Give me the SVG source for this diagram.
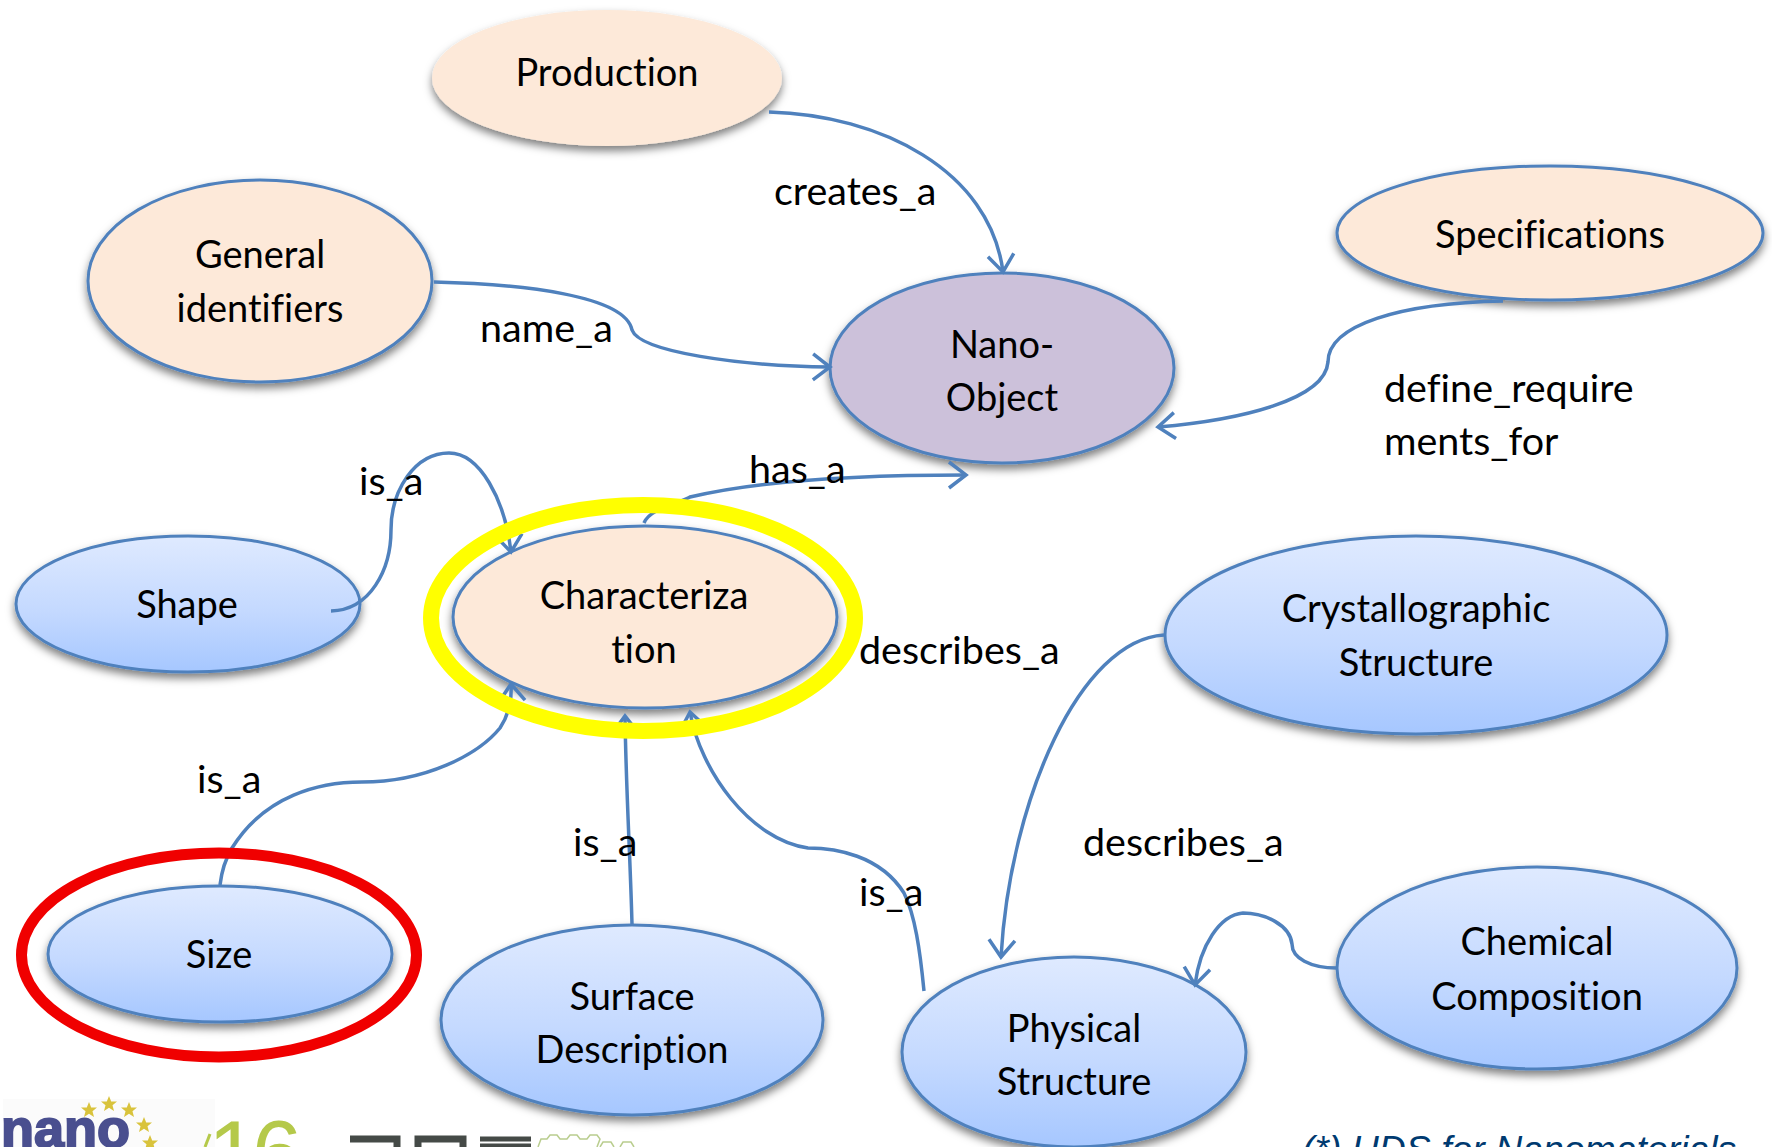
<svg xmlns="http://www.w3.org/2000/svg" width="1772" height="1147" viewBox="0 0 1772 1147">
<style>
text{font-family:"Lato","Carlito","Liberation Sans",sans-serif;font-size:38px;fill:#000;font-variant-ligatures:none}
.c{text-anchor:middle}
.e{font-size:39.5px}
.n{stroke:#4f81bd;stroke-width:3;filter:url(#sh)}
.b{fill:url(#blue)}
.p{fill:#fde9d9}
.l{fill:none;stroke:#4f81bd;stroke-width:3.5}
.a{marker-end:url(#arr)}
.s{fill:#d9c33c}
</style>
<defs>
<linearGradient id="blue" x1="0" y1="0" x2="0" y2="1"><stop offset="0" stop-color="#dfeaff"/><stop offset="0.55" stop-color="#c4d9ff"/><stop offset="1" stop-color="#a6c7ff"/></linearGradient>
<filter id="sh" x="-10%" y="-10%" width="120%" height="125%"><feDropShadow dx="0" dy="5" stdDeviation="4" flood-color="#000" flood-opacity="0.5"/></filter>
<marker id="arr" markerUnits="userSpaceOnUse" markerWidth="40" markerHeight="40" refX="30" refY="20" orient="auto"><path d="M13,7 L30,20 L13,33" fill="none" stroke="#4f81bd" stroke-width="3.5"/></marker>
<polygon id="star" points="0,-8 2.2,-2.6 8,-2.5 3.5,1.2 5,7 0,3.8 -5,7 -3.5,1.2 -8,-2.5 -2.2,-2.6"/>
</defs>
<rect width="1772" height="1147" fill="#fff"/>
<g id="node-production"><ellipse class="n p" cx="607" cy="78" rx="175" ry="68" style="stroke:none"/><text class="c" x="607" y="86">Production</text></g>
<g id="node-general"><ellipse class="n p" cx="260" cy="281" rx="172" ry="101"/><text class="c" x="260" y="268">General</text><text class="c" x="260" y="322">identifiers</text></g>
<g id="node-nano"><ellipse class="n" fill="#ccc1da" cx="1002" cy="368" rx="172" ry="95"/><text class="c" x="1002" y="358">Nano-</text><text class="c" x="1002" y="411">Object</text></g>
<g id="node-specifications"><ellipse class="n p" cx="1550" cy="233" rx="213" ry="67"/><text class="c" x="1550" y="248">Specifications</text></g>
<g id="node-shape"><ellipse class="n b" cx="188" cy="604" rx="172" ry="68"/><text class="c" x="187" y="618">Shape</text></g>
<g id="node-characterization"><ellipse class="n p" cx="645" cy="617" rx="192" ry="91"/><text class="c" x="644" y="609">Characteriza</text><text class="c" x="644" y="663">tion</text></g>
<g id="node-crystallographic"><ellipse class="n b" cx="1416" cy="635" rx="251" ry="99"/><text class="c" x="1416" y="622">Crystallographic</text><text class="c" x="1416" y="676">Structure</text></g>
<g id="node-chemical"><ellipse class="n b" cx="1537" cy="968" rx="200" ry="101"/><text class="c" x="1537" y="955">Chemical</text><text class="c" x="1537" y="1010">Composition</text></g>
<g id="node-physical"><ellipse class="n b" cx="1074" cy="1052" rx="172" ry="95"/><text class="c" x="1074" y="1042">Physical</text><text class="c" x="1074" y="1095">Structure</text></g>
<g id="node-surface"><ellipse class="n b" cx="632" cy="1020" rx="191" ry="95"/><text class="c" x="632" y="1010">Surface</text><text class="c" x="632" y="1063">Description</text></g>
<g id="node-size"><ellipse class="n b" cx="220" cy="954" rx="172" ry="68"/><text class="c" x="219" y="968">Size</text></g>
<g id="connectors">
<path class="l a" d="M769,112 C880,115 990,170 1003,272"/>
<path class="l a" d="M434,282 C520,284 625,295 632,330 C640,352 740,366 830,367"/>
<path class="l a" d="M1503,301 C1400,303 1328,325 1328,362 C1325,400 1240,420 1158,427"/>
<path class="l a" d="M644,523 C650,508 680,503 690,497 C760,480 860,475 966,475"/>
<path class="l a" d="M331,611 C370,610 391,570 391,530 C391,490 415,453 449,453 C480,453 505,500 511,552"/>
<path class="l a" d="M220,885 C222,868 226,858 232,848 C265,795 320,782 362,782 C425,782 478,755 500,728 C508,716 512,700 511,684"/>
<path class="l a" d="M632,924 C630,850 626,790 625,716"/>
<path class="l a" d="M924,991 C920,950 915,915 904,893 C880,855 835,848 808,848 C750,840 700,770 690,712"/>
<path class="l a" d="M1164,635 C1080,640 1010,800 1001,957"/>
<path class="l a" d="M1337,968 C1310,968 1292,958 1292,944 C1290,925 1265,913 1243,913 C1220,915 1200,945 1195,985"/>
</g>
<g id="highlights">
<ellipse cx="643" cy="618" rx="212" ry="113" fill="none" stroke="#ffff00" stroke-width="16"/>
<ellipse cx="219" cy="955" rx="197.500" ry="102" fill="none" stroke="#f00000" stroke-width="11"/>
</g>
<g id="labels">
<text class="e" x="774" y="205">creates_a</text>
<text class="e" x="480" y="342">name_a</text>
<text class="e" x="1384" y="402">define_require</text>
<text class="e" x="1384" y="455">ments_for</text>
<text class="e" x="749" y="483">has_a</text>
<text class="e" x="359" y="495">is_a</text>
<text class="e" x="859" y="664">describes_a</text>
<text class="e" x="197" y="793">is_a</text>
<text class="e" x="573" y="856">is_a</text>
<text class="e" x="1083" y="856">describes_a</text>
<text class="e" x="859" y="906">is_a</text>
</g>
<g id="footer">
<rect x="3" y="1099" width="212" height="48" fill="#fbfbfb"/>
<use href="#star" class="s" x="89" y="1110"/>
<use href="#star" class="s" x="109" y="1104"/>
<use href="#star" class="s" x="129" y="1110"/>
<use href="#star" class="s" x="144" y="1125"/>
<use href="#star" class="s" x="150" y="1143"/>
<text x="1" y="1147" style="font-family:'Liberation Sans',sans-serif;font-weight:bold;font-size:54px;fill:#4a4f8f;stroke:#4a4f8f;stroke-width:2">nano</text>
<text x="208" y="1184" style="font-family:'Liberation Sans',sans-serif;font-size:90px;fill:#b5c94a;letter-spacing:-6px">16</text>
<path d="M210,1134 L205,1147" stroke="#b5c94a" stroke-width="3" fill="none"/>
<path d="M350,1139 H397 V1147" stroke="#454a47" stroke-width="7" fill="none"/>
<path d="M418,1147 V1139 H463 V1147" stroke="#454a47" stroke-width="7" fill="none"/>
<path d="M480,1139 H531 M480,1146 H531" stroke="#454a47" stroke-width="5" fill="none"/>
<path d="M538,1147 l3,-8 h6 l3,-4 h7 l3,4 h7 l3,-4 h7 l3,4 h7 l3,-4 h7 l3,4 l-3,8 M600,1147 l3,-5 h8 l3,5 M620,1147 l3,-5 h8 l3,5" fill="none" stroke="#b9cd8e" stroke-width="1.500"/>
<text x="1302" y="1162" style="font-family:'Liberation Sans',sans-serif;font-style:italic;font-size:37.400px;fill:#003a70">(*) UDS for Nanomaterials</text>
</g>
</svg>
